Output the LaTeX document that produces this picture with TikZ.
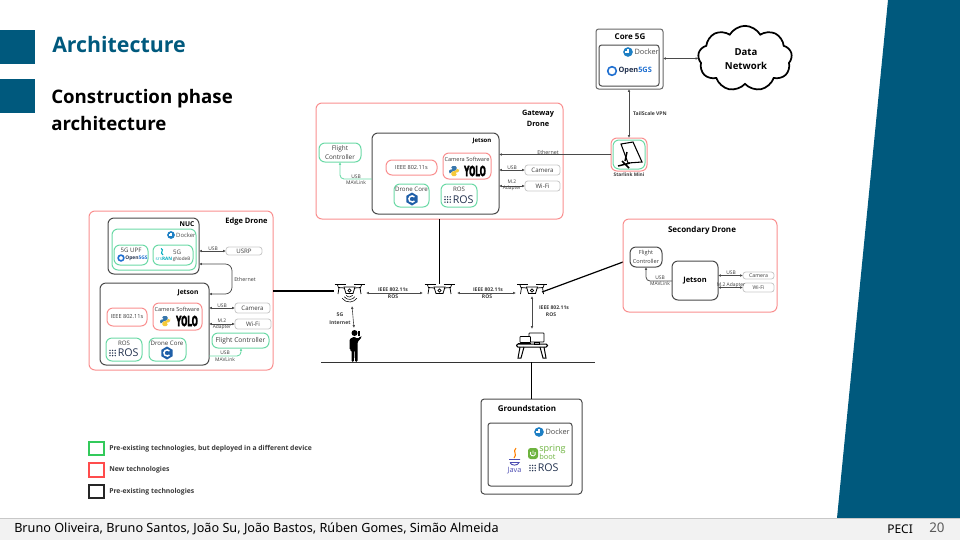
\documentclass[tikz,border=0pt]{standalone}
\usepackage{fontspec}
\setmainfont{Open Sans}
\newfontfamily\foot{Noto Sans}
\newfontfamily\yolofont[FakeBold=3]{DejaVu Sans}
\usetikzlibrary{fit,calc,arrows.meta,shapes.symbols}
\definecolor{teal}{HTML}{00597D}
\definecolor{redb}{HTML}{F98F8F}
\definecolor{greenb}{HTML}{6BD9A6}
\definecolor{darkb}{HTML}{4A4A4A}
\definecolor{greyb}{HTML}{C8C8C8}
\definecolor{txt}{HTML}{3A3A3A}
\definecolor{dock}{HTML}{1D7FC4}
\definecolor{ogs}{HTML}{1F6FD0}
\definecolor{rosc}{HTML}{22314E}
\definecolor{cpp}{HTML}{1F5FA8}
\definecolor{spr}{HTML}{6DB33F}
\definecolor{pyblue}{HTML}{3776AB}
\definecolor{pyyellow}{HTML}{F5C93A}
\tikzset{
 x=0.75pt,y=-0.75pt,
 panel/.style={rectangle,rounded corners=4.5pt,inner sep=0pt,outer sep=0pt,fit={#1}},
 redbox/.style={panel={#1},draw=redb,line width=0.75pt},
 greenbox/.style={panel={#1},draw=greenb,line width=0.75pt},
 darkbox/.style={panel={#1},draw=darkb,line width=0.75pt},
 greybox/.style={panel={#1},draw=greyb,line width=0.6pt,rounded corners=2pt},
 lab/.style={font=\fontsize{4.6}{5}\selectfont,text=txt,inner sep=0pt},
 smalllab/.style={font=\fontsize{3.7}{4}\selectfont,text=txt,inner sep=0pt},
 ttl/.style={font=\fontsize{5.6}{6.5}\selectfont\bfseries,text=black,inner sep=0pt,align=center},
 blab/.style={font=\fontsize{3.8}{4.5}\selectfont\bfseries,text=txt,inner sep=0pt},
 leg/.style={font=\fontsize{5.1}{6}\selectfont\bfseries,text=txt,inner sep=0pt,anchor=west},
 conn/.style={{Latex[length=2.2pt,width=2pt]}-{Latex[length=2.2pt,width=2pt]},line width=0.55pt,draw=darkb},
 connto/.style={-{Latex[length=2.2pt,width=2pt]},line width=0.75pt,draw=darkb},
 greenconn/.style={-{Latex[length=2.2pt,width=2pt]},line width=0.65pt,draw=greenb,rounded corners=3pt},
 plain/.style={line width=0.9pt,draw=black},
 pics/dockerlogo/.style={code={
   \fill[dock] (0,0) circle (4.2);
   \fill[white] (-2.6,-0.8) rectangle (1.2,0.6);
   \fill[white] (-1,-2.2) rectangle (0.6,-0.8);
   \node[lab,text=darkb,anchor=west,font=\fontsize{4.8}{5}\selectfont] (-t) at (5.4,0) {Docker};
 }},
 pics/opengs/.style={code={
   \draw[ogs,line width=1.2pt] (0,0) circle (3.6);
   \node[anchor=west,inner sep=0pt,font=\fontsize{4.6}{5}\selectfont\bfseries,text=rosc] (-t) at (5.2,0) {Open\textcolor{ogs}{5GS}};
 }},
 pics/pylogo/.style={code={
   \fill[pyblue,rounded corners=1pt] (-5,1.8) -- (-5,-1.4) -- (-1,-1.4) -- (-1,-2) -- (-2.6,-2) -- (-2.6,-5) -- (2.6,-5) -- (2.6,-0.4) -- (-2.2,-0.1) -- (-2.2,2.2) -- (-5,2.2) -- cycle;
   \fill[pyyellow,rounded corners=1pt] (5,-1.8) -- (5,1.4) -- (1,1.4) -- (1,2) -- (2.6,2) -- (2.6,5) -- (-2.6,5) -- (-2.6,0.4) -- (2.2,0.1) -- (2.2,-2.2) -- (5,-2.2) -- cycle;
 }},
 pics/yololab/.style={code={
   \node[inner sep=0pt,font=\fontsize{10.5}{11}\selectfont\yolofont\bfseries,text=black,xscale=0.52,transform shape] (-t) at (0,0) {YOLO};
 }},
 pics/cpplogo/.style={code={
   \fill[cpp] (0,-6.5) -- (5.6,-3.2) -- (5.6,3.2) -- (0,6.5) -- (-5.6,3.2) -- (-5.6,-3.2) -- cycle;
   \draw[white,line width=1.1pt] (2.4,-2) arc (320:40:3.1);
 }},
 pics/roslogo/.style={code={
   \foreach \i in {0,1,2}\foreach \j in {0,1,2}\fill[rosc] (-16+\i*2.6,-2.6+\j*2.6) circle (0.8);
   \node[anchor=west,inner sep=0pt,font=\fontsize{8}{8}\selectfont,text=rosc] (-t) at (-8.5,0) {ROS};
 }},
 pics/dronepic/.style={code={
   \draw[black,line width=0.9pt] (-15,-5.5) -- (-4,-5.5) (4,-5.5) -- (15,-5.5);
   \draw[black,line width=0.55pt] (-12,-5) -- (-11,-2.5) -- (-5,-2) (12,-5) -- (11,-2.5) -- (5,-2) (-10.5,-2.5) -- (-11.5,4) (10.5,-2.5) -- (11.5,4);
   \draw[black,line width=0.6pt,fill=white] (-5.5,-3) -- (5.5,-3) -- (3.5,3.5) -- (-3.5,3.5) -- cycle;
   \draw[black,line width=0.5pt] (0,0.5) circle (1.6);
 }},
 pics/person/.style={code={
   \fill[black] (0,3) circle (3);
   \fill[black,rounded corners=1pt] (-5,9) -- (0,6.5) -- (3,9) -- (6,6) -- (7.5,7) -- (3,12) -- (3,32) -- (0.6,32) -- (0.3,20) -- (-0.3,20) -- (-0.6,32) -- (-3,32) -- (-3,20) -- (-5,20) -- cycle;
   \fill[black] (3.5,1) rectangle (5,6);
 }},
 pics/deskpic/.style={code={
   \draw[black,line width=0.75pt,fill=white,rounded corners=1pt] (-15.5,8) rectangle (15.5,11);
   \draw[black,line width=0.75pt] (-12,11) -- (-14,22) -- (-11,22) -- (-8,11) (12,11) -- (14,22) -- (11,22) -- (8,11);
   \draw[black,line width=0.6pt,fill=white,rounded corners=0.5pt] (-3,-3) rectangle (12,6);
   \draw[black,line width=0.6pt] (2,6) rectangle (7,8);
   \draw[black,line width=0.6pt,fill=white,rounded corners=0.5pt] (-12,0.5) rectangle (-1.5,6.5);
   \draw[black,line width=0.8pt] (-14,7.5) -- (-1,7.5);
 }}
}
\begin{document}
\begin{tikzpicture}
\useasboundingbox (0,0) rectangle (960,540);
% slide frame
\fill[teal] (888,0) -- (960,0) -- (960,518) -- (837,518) -- cycle;
\fill[teal] (0,30) rectangle (35,64);
\fill[teal] (0,79) rectangle (35,113);
\fill[black!5] (0,518) rectangle (960,540);
\draw[greyb,line width=0.6pt] (0,518) -- (960,518);
\node[anchor=west,inner sep=0pt,font=\fontsize{16}{18}\selectfont\bfseries,text=teal] (title) at (52,44) {Architecture};
\node[anchor=north west,inner sep=0pt,font=\fontsize{14}{20}\selectfont\bfseries,text=black,align=left] (subtitle) at (51,89) {Construction phase\\architecture};
\node[anchor=west,inner sep=0pt,font=\fontsize{9.5}{11}\foot,text=black] (authors) at (14,528.5) {Bruno Oliveira, Bruno Santos, João Su, João Bastos, Rúben Gomes, Simão Almeida};
\node[anchor=west,inner sep=0pt,font=\fontsize{9}{11}\foot,text=black] (peci) at (887,529) {PECI};
\node[anchor=west,inner sep=0pt,font=\fontsize{10}{11}\foot,text=black!65] (pageno) at (929,528) {20};

% Edge drone
\node[redbox={(89,211)(273,370)}] (edge) {};
\node[ttl] (edgeT) at (246.5,222) {Edge Drone};
\node[darkbox={(108,218)(199,274)}] (nuc) {};
\node[ttl,font=\fontsize{5}{6}\selectfont\bfseries] (nucT) at (187,224) {NUC};
\node[greenbox={(112,229)(196,270)}] (nucIn) {};
\pic[scale=0.92,transform shape] (eDock) at (171,235) {dockerlogo};
\node[greenbox={(114,245)(148,265)}] (upf) {};
\node[lab] (upfT) at (131,250) {5G UPF};
\pic[scale=0.8,transform shape] (eOgs) at (121,258) {opengs};
\node[greenbox={(153,245)(193,265)}] (gnb) {};
\node[lab] (gnbT) at (177,252) {5G};
\draw[teal!50!cyan,line width=0.8pt] (161,248.5) .. controls (165,250) and (159,252.5) .. (163,255);
\node[smalllab,font=\fontsize{3.5}{4}\selectfont] (gnbL) at (173,259.5) {\textcolor{teal!50!cyan}{srs\textbf{RAN}}\,gNodeB};
\node[greybox={(226,247)(262,255)}] (usrp) {};
\node[lab] (usrpT) at (244,251) {USRP};
\draw[conn] (nuc.east |- usrp.west) -- (usrp.west);
\node[smalllab] (usrpL) at (213,249) {USB};
\coordinate (ethA) at (232,264);
\coordinate (ethB) at (232,294);
\node[darkbox={(100,283)(209,365)}] (jet) {};
\node[ttl,font=\fontsize{5}{6}\selectfont\bfseries] (jetT) at (188,293) {Jetson};
\draw[conn,rounded corners=5pt] (nuc.east |- ethA) -- (ethA) -- (ethB) -- (jet.east |- ethB);
\node[smalllab,font=\fontsize{4}{4}\selectfont] (ethL) at (245,279) {Ethernet};
\node[redbox={(107,308)(147,326)}] (eIeee) {};
\node[lab,font=\fontsize{4.2}{5}\selectfont] (eIeeeT) at (127,317) {IEEE 802.11s};
\node[redbox={(153,303)(202,330)}] (eCam) {};
\node[lab,font=\fontsize{4.2}{5}\selectfont] (eCamT) at (177,309) {Camera Software};
\pic (ePy) at (165,321) {pylogo};
\pic (eYolo) at (187,321) {yololab};
\node[greenbox={(106,338)(142,361)}] (eRos) {};
\node[lab] (eRosT) at (124,343) {ROS};
\pic (eRosL) at (126,353) {roslogo};
\node[greenbox={(149,338)(186,361)}] (eCore) {};
\node[lab] (eCoreT) at (167,343) {Drone Core};
\pic (eCpp) at (167,353) {cpplogo};
\node[greybox={(235,303)(270,313)}] (eCamera) {};
\node[lab] (eCameraT) at (252.5,308) {Camera};
\draw[conn] (jet.east |- eCamera.west) -- (eCamera.west);
\node[smalllab] (eCamL) at (222,306) {USB};
\node[greybox={(235,319)(271,329)}] (eWifi) {};
\node[lab] (eWifiT) at (253,324) {Wi-Fi};
\draw[conn] (jet.east |- eWifi.west) -- (eWifi.west);
\node[smalllab] (eWifiL1) at (222,321) {M.2};
\node[smalllab] (eWifiL2) at (222,327.5) {Adapter};
\node[greenbox={(212,333)(269,348)}] (eFc) {};
\node[lab,font=\fontsize{5}{6}\selectfont] (eFcT) at (240.5,340.5) {Flight Controller};
\coordinate (eFcBend) at (241,356);
\draw[greenconn] (jet.east |- eFcBend) -- (eFcBend) -- (eFc.south -| eFcBend);
\node[smalllab] (eFcL1) at (225,353) {USB};
\node[smalllab] (eFcL2) at (225,359.5) {MAVLink};

% Gateway drone
\node[redbox={(316,103)(563,219)}] (gate) {};
\node[ttl,font=\fontsize{5.5}{8}\selectfont\bfseries] (gateT) at (538,118.5) {Gateway\\Drone};
\node[darkbox={(372,133)(499,214)}] (gjet) {};
\node[ttl,font=\fontsize{4.5}{5}\selectfont\bfseries] (gjetT) at (482,141) {Jetson};
\node[greenbox={(319,143)(361,162)}] (gFc) {};
\node[lab,align=center,font=\fontsize{4.8}{6.4}\selectfont] (gFcT) at (340,152.5) {Flight\\Controller};
\node[redbox={(386,160)(437,175)}] (gIeee) {};
\node[lab,font=\fontsize{4.2}{5}\selectfont] (gIeeeT) at (411.5,167.5) {IEEE 802.11s};
\node[redbox={(443,153)(491,179)}] (gCam) {};
\node[lab,font=\fontsize{4.2}{5}\selectfont] (gCamT) at (467,159) {Camera Software};
\pic (gPy) at (454,171) {pylogo};
\pic (gYolo) at (475,171) {yololab};
\node[greenbox={(394,184)(429,207)}] (gCore) {};
\node[lab] (gCoreT) at (411.5,189.5) {Drone Core};
\pic (gCpp) at (412,199) {cpplogo};
\node[greenbox={(441,184)(477,207)}] (gRos) {};
\node[lab] (gRosT) at (459,189.5) {ROS};
\pic (gRosL) at (461,199.5) {roslogo};
\node[greybox={(525,165)(560,175)}] (gCamera) {};
\node[lab] (gCameraT) at (542.5,170) {Camera};
\draw[conn] (gjet.east |- gCamera.west) -- (gCamera.west);
\node[smalllab] (gCamL) at (512,167.5) {USB};
\node[greybox={(525,181)(560,191)}] (gWifi) {};
\node[lab] (gWifiT) at (542.5,186) {Wi-Fi};
\draw[conn] (gjet.east |- gWifi.west) -- (gWifi.west);
\node[smalllab] (gWifiL1) at (512,182) {M.2};
\node[smalllab] (gWifiL2) at (512,188.5) {Adapter};
\coordinate (gFcBend) at (340,179);
\draw[greenconn] (gjet.west |- gFcBend) -- (gFcBend) -- (gFc.south -| gFcBend);
\node[smalllab] (gFcL1) at (356,176.5) {USB};
\node[smalllab] (gFcL2) at (356,183) {MAVLink};

% Core 5G, cloud, Starlink
\node[darkbox={(596,29)(663,89)},draw=black!60,rounded corners=2pt] (core) {};
\node[ttl,font=\fontsize{6}{7}\selectfont\bfseries] (coreT) at (630,37) {Core 5G};
\node[darkbox={(599,45)(659,86)},rounded corners=2pt] (coreIn) {};
\pic[scale=1.15,transform shape] (cDock) at (628,52) {dockerlogo};
\pic[scale=1.2,transform shape] (cOgs) at (612,71) {opengs};
\node[cloud,draw=black,line width=1.3pt,cloud puffs=9,cloud puff arc=120,aspect=1.5,minimum width=70.5pt,minimum height=49pt,inner sep=0pt,outer sep=0pt] (net) at (745,58.5) {};
\node[ttl,font=\fontsize{7.2}{10.5}\selectfont\bfseries] (netT) at (746,59) {Data\\Network};
\draw[conn] (core.east |- net.west) -- (net.west);
\node[redbox={(611,138)(647,171)}] (star) {};
\node[greenbox={(613,140)(645,169)}] (starIn) {};
\draw[black,line width=0.8pt,fill=white] (621,144) -- (633,142) -- (642,162) -- (628,163) -- cycle;
\draw[black,line width=1.1pt] (627,152) -- (625,161) (618,166) -- (630,163) (622,161) -- (629,168);
\node[blab,font=\fontsize{3.6}{4}\selectfont\bfseries] (starT) at (629,175) {Starlink Mini};
\draw[conn] (core.south -| star.north) -- (star.north);
\node[blab] (tailT) at (650,114) {TailScale VPN};
\draw[connto] (star.west) -- (gjet.east |- star.west);
\node[smalllab,font=\fontsize{4}{4}\selectfont] (gEthL) at (548,152) {Ethernet};

% Drones
\coordinate (d1) at (349.5,290);
\coordinate (d2) at (439.5,290);
\coordinate (d3) at (532,290);
\pic at (d1) {dronepic};
\pic at (d2) {dronepic};
\pic at (d3) {dronepic};
\draw[black,line width=0.4pt] (346.2,295.3) arc (145:35:4) (344.2,296.7) arc (145:35:6.5) (342.1,298.2) arc (145:35:9);
\draw[plain] (edge.east |- d1) ++(0,1) coordinate (eOut) -- (334,291);
\draw[plain] (gate.south -| d2) -- ($(d2)+(0,-6)$);
\draw[plain] (542,292) -- (623,262);
\coordinate (a1) at (366,293);
\coordinate (a2) at (423,293);
\coordinate (a3) at (457,293);
\coordinate (a4) at (516,293);
\draw[conn,line width=0.45pt] (a1) -- (a2);
\draw[conn,line width=0.45pt] (a3) -- (a4);
\node[blab] (l1a) at (393,289.5) {IEEE 802.11s};
\node[blab] (l1b) at (393,297) {ROS};
\node[blab] (l2a) at (488,289.5) {IEEE 802.11s};
\node[blab] (l2b) at (487,297) {ROS};
\node[blab] (l3a) at (554,308) {IEEE 802.11s};
\node[blab] (l3b) at (551,315) {ROS};
\node[blab] (l4a) at (340,315) {5G};
\node[blab] (l4b) at (340,322.5) {Internet};
% Person, desk, ground
\pic at (354.5,330) {person};
\pic at (532,336) {deskpic};
\coordinate (g1) at (321,362);
\coordinate (g2) at (595,362);
\draw[line width=0.75pt,black!80] (g1) -- (g2);
\draw[conn,line width=0.45pt] (352,306) -- (354,328);
\draw[conn,line width=0.45pt] (532,296) -- (532,329);

% Secondary drone
\node[redbox={(623,219)(777,312)}] (sec) {};
\node[ttl,font=\fontsize{6}{7}\selectfont\bfseries] (secT) at (702,230) {Secondary Drone};
\node[darkbox={(630,247)(662,267)}] (sFc) {};
\node[lab,align=center,font=\fontsize{4.2}{6.2}\selectfont] (sFcT) at (646,257) {Flight\\Controller};
\node[darkbox={(672,261)(718,300)}] (sjet) {};
\node[ttl] (sjetT) at (695,281) {Jetson};
\node[greybox={(743,272)(774,279)}] (sCamera) {};
\node[lab,font=\fontsize{3.9}{4}\selectfont] (sCameraT) at (758.5,275.5) {Camera};
\draw[conn] (sjet.east |- sCamera.west) -- (sCamera.west);
\node[smalllab] (sCamL) at (731,272.5) {USB};
\node[greybox={(743,283)(774,292)}] (sWifi) {};
\node[lab,font=\fontsize{3.9}{4}\selectfont] (sWifiT) at (758.5,287.5) {Wi-Fi};
\draw[conn] (sjet.east |- sWifi.west) -- (sWifi.west);
\node[smalllab] (sWifiL) at (731,285) {M.2 Adapter};
\coordinate (sFcBend) at (646,281);
\draw[-{Latex[length=2.2pt,width=2pt]},line width=0.6pt,draw=darkb,rounded corners=3pt] (sjet.west |- sFcBend) -- (sFcBend) -- (sFc.south -| sFcBend);
\node[smalllab] (sFcL1) at (660,277.5) {USB};
\node[smalllab] (sFcL2) at (660,283.5) {MAVLink};

% Groundstation
\node[darkbox={(481,399)(582,494)},rounded corners=2.5pt] (ground) {};
\node[ttl,font=\fontsize{6}{7}\selectfont\bfseries] (groundT) at (527,408) {Groundstation};
\node[darkbox={(488,423)(572,486)},rounded corners=2pt] (groundIn) {};
\draw[plain] (g1 -| ground.north) -- (ground.north);
\pic[scale=1.15,transform shape] (gsDock) at (539,432) {dockerlogo};
\node[inner sep=0pt,font=\fontsize{5.5}{6}\selectfont,text=blue!40!gray] (javaT) at (514.5,471) {Java};
\draw[orange,line width=0.8pt] (516,448) .. controls (512,452) and (518,454) .. (514,458);
\draw[blue!40!gray,line width=0.7pt] (509,459.5) -- (520,459.5) (510,462.5) -- (519,462.5) .. controls (518,466) and (511,466) .. (510,462.5);
\fill[spr,rounded corners=2pt] (528,448) rectangle (538,459);
\draw[white,line width=0.7pt] (533,450.5) -- (533,453.5) (530.7,452) arc (210:-30:2.6);
\node[anchor=west,inner sep=0pt,font=\fontsize{6.8}{7}\selectfont,text=spr] (sprT) at (539,449.5) {spring};
\node[anchor=west,inner sep=0pt,font=\fontsize{5.6}{6}\selectfont,text=spr] (bootT) at (539,457) {boot};
\pic (gsRos) at (546,468) {roslogo};

% Legend
\node[panel={(89,442)(104,455)},rounded corners=0pt,draw=green!60!teal!80!white,line width=1pt] (legG) {};
\node[leg] (legGT) at (109,448.5) {Pre-existing technologies, but deployed in a different device};
\node[panel={(89,463)(104,477)},rounded corners=0pt,draw=red!70!white,line width=1pt] (legR) {};
\node[leg] (legRT) at (109,470) {New technologies};
\node[panel={(89,485)(104,498)},rounded corners=0pt,draw=black!85,line width=1pt] (legB) {};
\node[leg] (legBT) at (109,492) {Pre-existing technologies};
\end{tikzpicture}
\end{document}
